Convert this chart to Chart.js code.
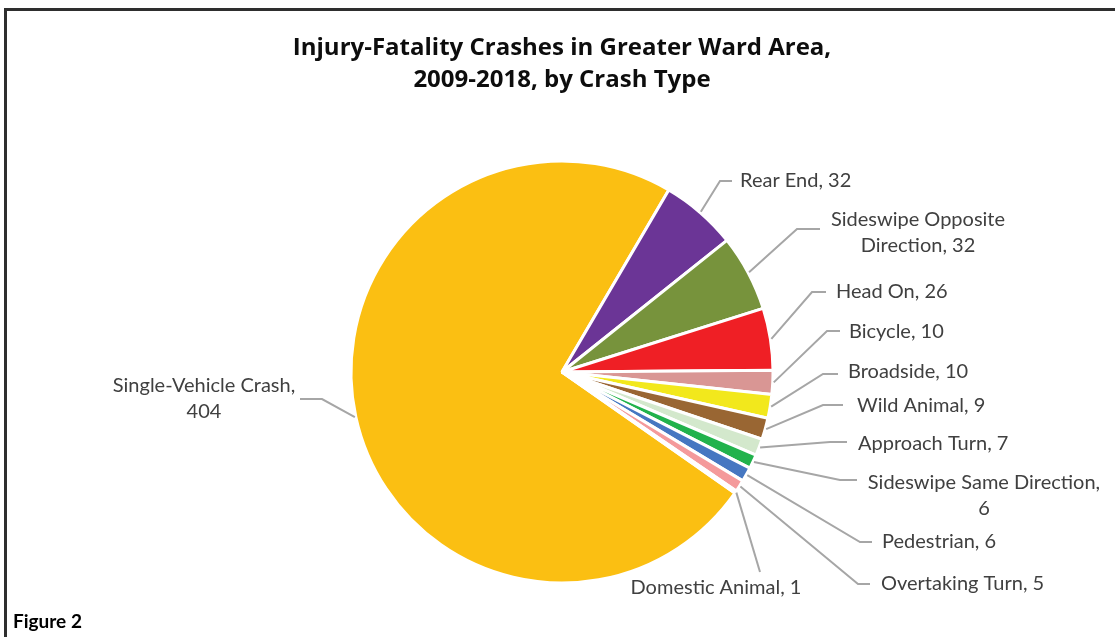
<!DOCTYPE html>
<html>
<head>
<meta charset="utf-8">
<script src="https://cdn.jsdelivr.net/npm/chart.js@4"></script>
<style>
  body { margin: 0; background: #fff; }
  #wrap { position: relative; width: 1115px; height: 637px; overflow: hidden; }
  #frame { position: absolute; left: 4px; top: 8px; width: 1400px; height: 900px; border: 3px solid #2e2e2e; box-sizing: border-box; }
  #fig { position: absolute; left: 13px; top: 609px; font: bold 19px Lato, sans-serif; color: #000; }
  canvas { position: absolute; left: 0; top: 0; }
</style>
</head>
<body>
<div id="wrap">
  <div id="frame"></div>
  <canvas id="pie" width="1115" height="637"></canvas>
  <div id="fig">Figure 2</div>
</div>
<script>
(function () {
  "use strict";

  /* ---------- data ---------- */
  var crashTypes = [
    "Single-Vehicle Crash", "Rear End", "Sideswipe Opposite Direction", "Head On",
    "Bicycle", "Broadside", "Wild Animal", "Approach Turn",
    "Sideswipe Same Direction", "Pedestrian", "Overtaking Turn", "Domestic Animal"
  ];
  var crashCounts = [404, 32, 32, 26, 10, 10, 9, 7, 6, 6, 5, 1];
  var sliceColors = [
    "#fbbf12", "#6b3596", "#77933c", "#ef1f25",
    "#d99694", "#f2e81c", "#996633", "#d3e8cc",
    "#21b24c", "#4677c1", "#f49a9b", "#c9c9c9"
  ];

  /* ---------- label layout (Excel-style placed data labels) ---------- */
  // wrap: words kept on the first line; tx/ty text anchor; ex elbow x; lx line end x; ly line y
  var labelLayout = [
    { wrap: 2, align: "center", tx: 204, ty: 386, ex: 322, lx: 300, ly: 399 },
    { wrap: 0, align: "left", tx: 740, ty: 181, ex: 720, lx: 732, ly: 181 },
    { wrap: 2, align: "center", tx: 918, ty: 220, ex: 797, lx: 820, ly: 229 },
    { wrap: 0, align: "left", tx: 836, ty: 292, ex: 812, lx: 826, ly: 292 },
    { wrap: 0, align: "left", tx: 849, ty: 332, ex: 827, lx: 840, ly: 331 },
    { wrap: 0, align: "left", tx: 848, ty: 372, ex: 823, lx: 838, ly: 374 },
    { wrap: 0, align: "left", tx: 857, ty: 406, ex: 823, lx: 843, ly: 405 },
    { wrap: 0, align: "left", tx: 858, ty: 444, ex: 830, lx: 847, ly: 442 },
    { wrap: 3, align: "center", tx: 984, ty: 483, ex: 840, lx: 857, ly: 480 },
    { wrap: 0, align: "left", tx: 882, ty: 542, ex: 860, lx: 872, ly: 542 },
    { wrap: 0, align: "left", tx: 881, ty: 584, ex: 858, lx: 870, ly: 584 },
    { wrap: 0, align: "center", tx: 716, ty: 588, ex: 760, lx: 760, ly: 572 }
  ];

  function labelLines(i) {
    var txt = crashTypes[i] + ", " + crashCounts[i];
    var w = labelLayout[i].wrap;
    if (!w) return [txt];
    var words = txt.split(" ");
    return [words.slice(0, w).join(" "), words.slice(w).join(" ")];
  }

  var leaderLabels = {
    id: "leaderLabels",
    afterDatasetsDraw: function (chart) {
      var ctx = chart.ctx;
      var arcs = chart.getDatasetMeta(0).data;
      ctx.save();
      arcs.forEach(function (arc, i) {
        var p = arc.getProps(["x", "y", "startAngle", "endAngle", "outerRadius"], true);
        var mid = (p.startAngle + p.endAngle) / 2;
        var r = p.outerRadius + 1;
        var L = labelLayout[i];
        ctx.strokeStyle = "#a6a6a6";
        ctx.lineWidth = 2;
        ctx.beginPath();
        ctx.moveTo(p.x + Math.cos(mid) * r, p.y + Math.sin(mid) * r);
        ctx.lineTo(L.ex, L.ly);
        ctx.lineTo(L.lx, L.ly);
        ctx.stroke();
        ctx.fillStyle = "#404040";
        ctx.font = "20px Lato, sans-serif";
        ctx.textBaseline = "middle";
        ctx.textAlign = L.align;
        labelLines(i).forEach(function (line, k) {
          ctx.fillText(line, L.tx, L.ty + k * 26);
        });
      });
      ctx.restore();
    }
  };

  Chart.defaults.font.family = "Lato, sans-serif";

  new Chart(document.getElementById("pie"), {
    type: "pie",
    data: {
      labels: crashTypes,
      datasets: [{
        data: crashCounts,
        backgroundColor: sliceColors,
        borderColor: "#ffffff",
        borderWidth: 3
      }]
    },
    options: {
      responsive: false,
      animation: false,
      rotation: 125,
      radius: 211,
      layout: { padding: { left: 9, right: 0, top: 0, bottom: 9 } },
      plugins: {
        legend: { display: false },
        tooltip: { enabled: false },
        title: {
          display: true,
          text: ["Injury-Fatality Crashes in Greater Ward Area,", "2009-2018, by Crash Type"],
          color: "#0d0d0d",
          font: { family: "'Open Sans', sans-serif", size: 24, weight: "bold", lineHeight: 1.3333 },
          padding: { top: 32, bottom: 20 }
        }
      }
    },
    plugins: [leaderLabels]
  });
})();
</script>
</body>
</html>
